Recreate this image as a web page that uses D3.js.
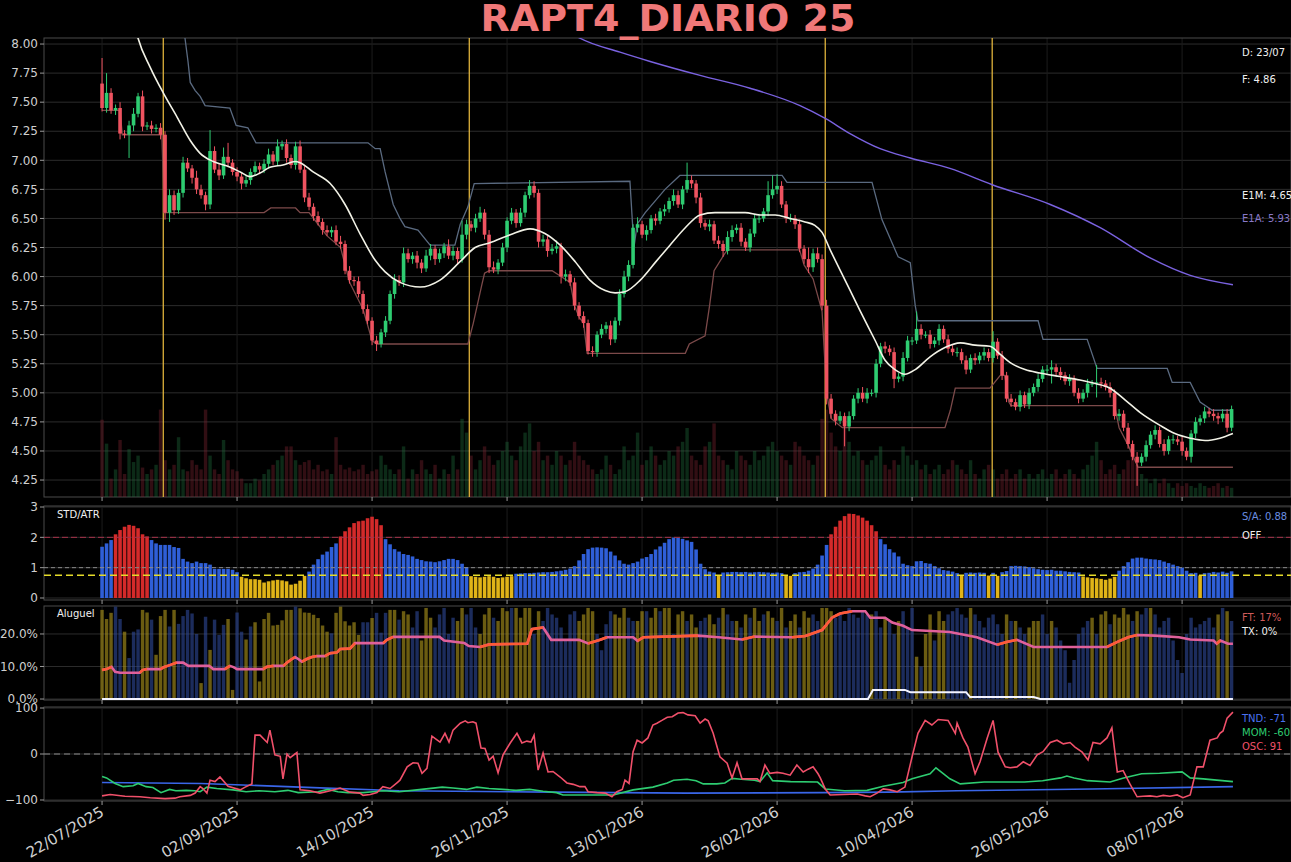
<!DOCTYPE html>
<html>
<head>
<meta charset="utf-8">
<script src="https://cdnjs.cloudflare.com/ajax/libs/d3/7.8.5/d3.min.js"></script>
<style>
  body { margin: 0; background: #000; }
  text { font-family: "DejaVu Sans", sans-serif; }
</style>
</head>
<body>
<svg id="chart"></svg>
<script>
const WIDTH = 1291;
const HEIGHT = 862;

// ---------- data ----------
const title = "RAPT4_DIARIO 25";
const xTickBars = [0, 30, 60, 90, 120, 150, 180, 210, 240];
const xTickLabels = ["22/07/2025", "02/09/2025", "14/10/2025", "26/11/2025", "13/01/2026",
  "26/02/2026", "10/04/2026", "26/05/2026", "08/07/2026"];

const firstOpen = 7.66;
const closes = [
  7.45,7.58,7.43,7.45,7.23,7.22,7.30,7.40,7.55,7.29,
  7.30,7.27,7.28,7.22,6.55,6.70,6.57,6.72,6.98,6.93,
  6.85,6.75,6.70,6.62,7.08,6.92,6.87,7.03,6.98,6.90,
  6.86,6.80,6.83,6.90,6.95,6.92,6.97,7.05,6.99,7.12,
  7.14,7.02,6.96,7.12,6.92,6.68,6.60,6.52,6.47,6.40,
  6.38,6.40,6.30,6.28,6.05,5.97,5.96,5.85,5.72,5.62,
  5.45,5.42,5.52,5.62,5.85,5.97,5.95,6.20,6.15,6.18,
  6.12,6.07,6.18,6.24,6.15,6.20,6.26,6.18,6.22,6.15,
  6.36,6.45,6.42,6.50,6.55,6.36,6.08,6.06,6.12,6.25,
  6.48,6.55,6.46,6.55,6.70,6.78,6.72,6.30,6.32,6.22,
  6.24,6.26,6.00,6.02,5.95,5.75,5.66,5.60,5.36,5.35,
  5.50,5.55,5.58,5.46,5.62,5.85,6.00,6.10,6.42,6.45,
  6.36,6.40,6.50,6.48,6.56,6.58,6.65,6.70,6.62,6.75,
  6.83,6.80,6.68,6.46,6.43,6.45,6.31,6.28,6.22,6.34,
  6.40,6.42,6.30,6.25,6.37,6.50,6.50,6.56,6.70,6.75,
  6.78,6.62,6.50,6.50,6.45,6.24,6.15,6.08,6.20,6.15,
  5.75,4.95,4.82,4.76,4.80,4.71,4.80,4.95,5.00,4.95,
  5.00,5.00,5.25,5.40,5.38,5.35,5.12,5.14,5.30,5.45,
  5.45,5.55,5.50,5.50,5.42,5.45,5.55,5.46,5.38,5.35,
  5.35,5.28,5.20,5.30,5.28,5.32,5.35,5.30,5.44,5.32,
  5.15,4.95,4.92,4.88,4.98,4.90,5.00,5.05,5.12,5.20,
  5.20,5.22,5.18,5.15,5.10,5.12,5.00,4.95,5.00,5.08,
  5.08,5.09,5.08,5.05,5.00,4.80,4.82,4.70,4.56,4.45,
  4.40,4.45,4.55,4.64,4.68,4.56,4.50,4.60,4.60,4.58,
  4.50,4.45,4.65,4.75,4.78,4.84,4.82,4.80,4.78,4.82,
  4.70,4.86
];
// wick lengths above / below the body
const wickUp = [
  0.22,0.17,0.04,0.03,0.05,0.03,0.04,0.05,0.03,0.05,
  0.03,0.04,0.03,0.04,0.03,0.05,0.04,0.03,0.05,0.04,
  0.03,0.06,0.04,0.03,0.18,0.04,0.05,0.08,0.12,0.03,
  0.04,0.03,0.04,0.03,0.04,0.03,0.04,0.05,0.03,0.06,
  0.03,0.04,0.03,0.04,0.05,0.03,0.04,0.03,0.04,0.03,
  0.04,0.03,0.04,0.05,0.03,0.04,0.03,0.04,0.03,0.04,
  0.03,0.04,0.03,0.04,0.03,0.05,0.04,0.05,0.04,0.03,
  0.04,0.03,0.05,0.04,0.03,0.04,0.03,0.06,0.04,0.03,
  0.12,0.04,0.03,0.04,0.05,0.03,0.04,0.05,0.03,0.04,
  0.03,0.04,0.03,0.04,0.03,0.05,0.04,0.03,0.04,0.03,
  0.04,0.05,0.03,0.04,0.03,0.04,0.03,0.04,0.03,0.04,
  0.03,0.04,0.03,0.04,0.03,0.04,0.05,0.04,0.03,0.06,
  0.03,0.04,0.03,0.04,0.03,0.04,0.03,0.05,0.04,0.03,
  0.15,0.04,0.03,0.04,0.03,0.04,0.03,0.04,0.03,0.05,
  0.04,0.03,0.04,0.03,0.04,0.03,0.04,0.03,0.12,0.12,
  0.10,0.04,0.03,0.04,0.03,0.04,0.03,0.10,0.04,0.05,
  0.04,0.05,0.04,0.03,0.04,0.03,0.04,0.03,0.04,0.05,
  0.04,0.03,0.04,0.03,0.04,0.03,0.04,0.03,0.05,0.04,
  0.03,0.15,0.04,0.03,0.04,0.03,0.04,0.03,0.04,0.03,
  0.04,0.03,0.04,0.03,0.04,0.03,0.04,0.03,0.09,0.03,
  0.04,0.03,0.04,0.03,0.04,0.03,0.04,0.03,0.04,0.03,
  0.04,0.06,0.03,0.04,0.03,0.04,0.03,0.04,0.03,0.04,
  0.03,0.15,0.04,0.03,0.04,0.03,0.04,0.03,0.04,0.03,
  0.04,0.03,0.04,0.03,0.04,0.03,0.04,0.03,0.04,0.03,
  0.04,0.03,0.03,0.04,0.03,0.04,0.03,0.04,0.03,0.04,
  0.04,0.03
];
const wickDn = [
  0.03,0.04,0.03,0.04,0.05,0.03,0.20,0.05,0.03,0.04,
  0.03,0.04,0.03,0.04,0.06,0.08,0.04,0.03,0.04,0.03,
  0.05,0.04,0.03,0.05,0.04,0.03,0.04,0.03,0.04,0.03,
  0.04,0.05,0.03,0.04,0.03,0.04,0.03,0.04,0.03,0.04,
  0.03,0.04,0.03,0.04,0.03,0.04,0.03,0.04,0.03,0.04,
  0.03,0.04,0.03,0.04,0.03,0.03,0.04,0.03,0.04,0.03,
  0.04,0.06,0.03,0.04,0.03,0.04,0.03,0.04,0.03,0.04,
  0.05,0.04,0.03,0.04,0.05,0.03,0.04,0.03,0.04,0.05,
  0.03,0.04,0.03,0.04,0.03,0.04,0.05,0.03,0.04,0.03,
  0.04,0.03,0.04,0.03,0.04,0.03,0.04,0.05,0.04,0.05,
  0.03,0.04,0.06,0.04,0.03,0.04,0.03,0.04,0.03,0.04,
  0.04,0.03,0.04,0.05,0.03,0.04,0.03,0.04,0.03,0.04,
  0.03,0.05,0.03,0.04,0.03,0.04,0.03,0.04,0.03,0.04,
  0.03,0.04,0.05,0.04,0.03,0.04,0.03,0.04,0.05,0.03,
  0.04,0.03,0.04,0.03,0.04,0.03,0.04,0.03,0.04,0.03,
  0.04,0.03,0.04,0.03,0.04,0.03,0.04,0.05,0.04,0.03,
  0.04,0.05,0.04,0.04,0.03,0.17,0.04,0.03,0.04,0.03,
  0.04,0.03,0.04,0.03,0.04,0.03,0.08,0.03,0.04,0.03,
  0.04,0.03,0.04,0.03,0.04,0.03,0.04,0.03,0.04,0.03,
  0.04,0.03,0.04,0.03,0.04,0.03,0.04,0.03,0.04,0.03,
  0.04,0.03,0.04,0.03,0.04,0.03,0.04,0.03,0.04,0.03,
  0.04,0.12,0.03,0.04,0.03,0.04,0.03,0.04,0.03,0.04,
  0.03,0.12,0.04,0.03,0.04,0.03,0.04,0.03,0.04,0.03,
  0.20,0.03,0.04,0.03,0.04,0.03,0.04,0.03,0.04,0.03,
  0.04,0.03,0.05,0.04,0.03,0.04,0.03,0.04,0.05,0.03,
  0.04,0.03
];
const volumes = [
  84,58,20,30,62,25,52,38,45,32, 25,30,35,95,40,30,35,65,30,28,
  40,35,30,95,45,30,25,62,40,30, 28,20,15,15,20,18,25,30,35,40,
  45,55,55,40,35,38,40,30,35,28, 30,25,65,35,30,32,28,30,35,25,
  28,30,45,35,30,25,30,55,20,30, 25,40,30,25,35,20,30,25,45,30,
  85,70,45,30,40,55,45,35,40,50, 60,45,40,55,70,80,50,60,40,45,
  35,50,45,35,40,60,45,40,35,30, 25,30,45,35,25,30,55,40,45,70,
  35,40,55,45,35,40,50,45,55,60, 75,45,40,35,55,60,80,45,40,35,
  30,50,45,40,35,50,40,45,55,60, 50,45,40,35,60,55,45,40,35,45,
  85,95,70,55,50,75,60,45,50,40, 35,40,45,55,35,30,40,35,55,45,
  35,40,30,35,25,30,35,25,30,40, 35,30,25,40,25,20,30,35,30,20,
  25,30,20,25,30,20,25,20,25,30, 20,25,30,20,25,30,25,20,30,35,
  45,60,40,25,30,35,25,30,40,45, 35,25,20,15,20,15,20,15,10,15,
  12,15,12,10,15,12,10,12,15,10, 12,10
];

// moving averages and channel, as [bar, value] vertices
const e1m = [[6.2,8.35],[8,8.05],[10.7,7.8],[13.6,7.58],[16.7,7.37],[19.6,7.17],[21.8,7.06],
  [24.7,6.99],[27.8,6.95],[30.7,6.9],[32.9,6.86],[35.1,6.89],[37.3,6.94],[40.2,6.96],[42.9,6.99],
  [44,6.98],[46.9,6.9],[50.7,6.8],[54,6.62],[57.3,6.37],[60.7,6.14],[62.9,6.04],[66.2,5.95],
  [70.7,5.91],[75.1,5.97],[79.6,6.13],[82.9,6.25],[86.2,6.29],[90.7,6.36],[95.1,6.41],[98.4,6.37],
  [101.8,6.27],[105.1,6.13],[108.4,5.97],[111.8,5.88],[114,5.86],[116.2,5.87],[119.6,5.97],
  [122.9,6.12],[126.2,6.27],[129.6,6.42],[132.9,6.53],[136.2,6.55],[139.6,6.55],[142.9,6.55],
  [146.2,6.53],[149.6,6.53],[152.9,6.5],[156.2,6.47],[158.4,6.44],[160,6.38],[161.8,6.23],
  [165.1,5.97],[168.4,5.71],[171.8,5.45],[174,5.28],[176.2,5.2],[178.4,5.16],[180.7,5.2],
  [184,5.31],[187.3,5.39],[190.7,5.43],[194,5.41],[197.3,5.4],[199.6,5.33],[201.8,5.26],
  [205.1,5.2],[208.4,5.17],[212.9,5.14],[217.3,5.11],[220.7,5.08],[224,5.04],[227.3,4.94],
  [230.7,4.83],[235.1,4.72],[238.4,4.65],[241.8,4.61],[245.1,4.59],[248.4,4.61],[251.3,4.65]];
const e1a = [[104,8.1],[106.2,8.05],[115.1,7.93],[121.8,7.85],[132.9,7.73],[144,7.62],
  [155.1,7.47],[160.7,7.36],[166.2,7.23],[172.9,7.1],[179.6,7.02],[188.4,6.93],[197.8,6.79],
  [210.7,6.62],[221.8,6.42],[232.9,6.16],[241.8,6.01],[251.3,5.93]];
const chanHigh = [[18.2,8.12],[19.1,7.85],[19.6,7.67],[20.7,7.6],[21.8,7.55],[22.9,7.47],
  [28.4,7.45],[29.8,7.3],[32.4,7.28],[34.2,7.15],[59.1,7.15],[60.7,7.1],[61.8,7.1],[62.9,6.9],
  [64.7,6.62],[66.2,6.5],[67.3,6.43],[70.2,6.4],[72.9,6.27],[78.4,6.27],[79.6,6.45],[81.3,6.6],
  [82.7,6.8],[117.3,6.82],[118.2,6.25],[118.9,6.45],[120.7,6.55],[125.1,6.75],[128.4,6.87],
  [151.1,6.87],[152.2,6.81],[171.1,6.81],[173.3,6.49],[176.9,6.17],[179.6,6.12],[180.7,5.75],
  [181.3,5.62],[208,5.62],[209.1,5.46],[218.9,5.46],[221.1,5.21],[236.7,5.21],[237.8,5.09],
  [241.8,5.09],[244,4.92],[246.7,4.85],[251.3,4.85]];
const chanLow = [[0,7.43],[4,7.43],[4.5,7.22],[13.3,7.22],[13.8,6.55],[36,6.55],[37.5,6.59],
  [43,6.59],[44,6.55],[46,6.55],[48,6.45],[50,6.35],[53,6.25],[55,5.95],[58,5.72],[60,5.45],
  [61,5.42],[81.3,5.42],[82.5,5.6],[84.4,5.93],[85,6.03],[86,6.05],[100,6.05],[102,6.0],
  [104,5.95],[105,5.75],[106,5.65],[107,5.6],[107.8,5.34],[129.6,5.34],[130.5,5.42],[134,5.49],
  [135,5.75],[136,6.05],[138.4,6.2],[139,6.23],[155,6.23],[156,6.1],[158,5.98],[160,5.7],
  [161,5.0],[162,4.78],[164.5,4.7],[187.3,4.7],[188.5,4.85],[189.6,5.04],[197.3,5.04],
  [199.6,5.15],[200.6,5.15],[201.5,4.92],[202,4.89],[225,4.89],[226,4.7],[228,4.55],
  [230.2,4.36],[251.3,4.36]];
const eventBars = [13.6, 81.6, 160.7, 197.8];

// STD/ATR histogram
const stdAtr = [
  1.69,1.80,1.91,2.10,2.24,2.35,2.41,2.38,2.30,2.10,
  2.03,1.91,1.80,1.75,1.75,1.75,1.68,1.65,1.29,1.20,
  1.15,1.20,1.15,1.15,1.10,0.96,0.96,0.96,0.96,0.93,
  0.85,0.70,0.65,0.62,0.62,0.60,0.51,0.55,0.58,0.60,
  0.58,0.55,0.44,0.47,0.57,0.73,0.87,1.10,1.28,1.43,
  1.53,1.68,1.80,2.03,2.20,2.33,2.47,2.53,2.55,2.63,
  2.68,2.60,2.40,1.94,1.77,1.61,1.53,1.45,1.42,1.37,
  1.29,1.25,1.21,1.20,1.18,1.21,1.25,1.29,1.29,1.25,
  1.13,1.02,0.72,0.70,0.68,0.70,0.72,0.70,0.66,0.68,
  0.70,0.72,0.80,0.81,0.82,0.82,0.83,0.84,0.85,0.85,
  0.86,0.88,0.90,0.93,0.97,1.05,1.24,1.45,1.61,1.66,
  1.67,1.66,1.64,1.53,1.40,1.24,1.13,1.10,1.15,1.20,
  1.30,1.35,1.45,1.60,1.70,1.82,1.94,1.99,1.98,1.95,
  1.90,1.85,1.60,1.13,0.95,0.87,0.84,0.74,0.84,0.85,
  0.86,0.86,0.85,0.86,0.84,0.85,0.86,0.85,0.84,0.83,
  0.84,0.82,0.74,0.73,0.82,0.85,0.86,0.90,0.97,1.10,
  1.40,1.75,2.10,2.35,2.55,2.70,2.78,2.77,2.72,2.65,
  2.55,2.40,2.20,1.94,1.77,1.61,1.50,1.37,1.13,1.08,
  1.05,1.21,1.22,1.15,1.13,1.05,0.98,0.92,0.90,0.87,
  0.82,0.73,0.83,0.84,0.83,0.84,0.83,0.74,0.83,0.73,
  0.85,0.89,1.05,1.06,1.05,1.04,1.02,0.98,0.95,0.93,
  0.92,0.93,0.90,0.90,0.88,0.86,0.85,0.84,0.71,0.68,
  0.66,0.65,0.63,0.60,0.64,0.70,0.90,1.05,1.18,1.30,
  1.33,1.33,1.30,1.28,1.27,1.25,1.20,1.15,1.10,1.05,
  1.00,0.90,0.82,0.83,0.74,0.82,0.83,0.86,0.84,0.87,
  0.83,0.88
];
const stdHigh = 2.0, stdMid = 1.0, stdLow = 0.75;

// Aluguel panel
const aluBars = [
  27.4,24.6,26.5,28.4,24.6,20.7,12.6,20.7,21.4,27.4,
  26.6,24.4,13.6,25.5,27.4,22.3,27.4,23.1,25.5,27.4,
  26.3,20.0,4.9,25.3,15.1,24.4,19.7,22.8,24.6,2.8,
  26.6,20.7,18.3,22.3,23.6,5.4,24.6,26.5,22.6,22.8,
  24.2,27.4,27.4,28.4,27.9,26.6,26.5,25.9,24.9,22.6,
  20.7,20.2,26.5,28.4,23.9,22.6,23.6,19.7,23.6,23.6,
  24.9,26.5,20.4,26.5,27.4,27.4,24.4,27,26,22,
  27,18,28,25,22,26,28,20,25,24,
  28,26,28,22,20,26,28,25,24,28,
  27,28,28,25,28,28,20,27,24,28,
  26,25,22,18,26,27,24,26,28,27,
  20,15,23,27,26,25,28,25,24,24,
  27,27,25,28,27,28,28,20,26,27,
  24,26,22,24,25,26,23,25,28,26,
  24,24,22,26,25,28,24,26,27,25,
  24,28,22,24,26,22,27,25,26,24,
  28,28,27,25,26,24,28,26,25,27,
  26,26,27,22,25,24,20,24,27,22,
  28,13,10,20,26,18,27,24,26,27,
  28,26,25,28,26,24,22,25,26,23,
  20,26,24,24,22,20,22,24,24,26,
  20,24,22,18,15,5,12,20,22,24,
  25,20,26,27,23,26,25,28,26,24,
  27,26,28,28,26,22,24,25,18,12,
  8,20,25,22,23,24,25,22,26,28,
  27,24
];
const aluKind = "YYYBBYBBBY" + "YBYYYBYBBB" + "BBYBYBBBYY" + "BBYBYYYYYY" + "YYYBYYYYYY" +
  "YBYYYYYYBB" + "YBBBYYBYYB" + "BYYYBBBBBY" + "YBBBYYYBYY" + "YBYYYYBYBB" +
  "BBBBBBYYYY" + "BBBBYYYBBY" + "YBYYBYYBYY" + "BYYBBYYBYB" + "BYBYBYYBYY" +
  "BYBYYBYYBB" + "YYYBBBBBBB" + "BYBBYBBYBB" + "BYBYYBYYBB" + "BBBYBBBBBB" +
  "BYBYBBYYYB" + "BYBBBBBBBB" + "YBYYBYYYYB" + "YBBYBBBBBB" + "BBBBBBBBYB" + "YB";
const ftLine = [[0,8.9],[1,9.2],[2.1,9.9],[2.9,8.4],[4,8.1],[8.4,8.1],[9,8.9],[10,9.2],[13,9.2],
  [13.7,9.8],[15.2,10.5],[16.6,11.2],[18,11.2],[19.2,10.2],[23.8,10.2],[24.7,9.2],[27.3,9.2],
  [28.4,10.2],[29.2,9.8],[30,9.2],[35.8,9.2],[36.6,9.9],[38.1,10.2],[40.3,10.2],[41,11.1],
  [42.2,12.3],[42.9,12.9],[43.6,12.3],[44.4,11.5],[45.5,12.3],[46.6,12.9],[47.7,13.2],[49.5,13.2],
  [50.7,14.1],[52.2,14.3],[52.9,15.4],[55.1,15.5],[56.2,17.2],[62.5,17.2],[63.3,18.2],[64.7,19.1],
  [75,19.1],[76,18.0],[80.5,17.2],[81.5,16.3],[84,16.0],[86,16.8],[94.5,17.0],[95.5,21.5],
  [98,22.0],[99.8,18.2],[106,18.2],[108,17.1],[110.7,18.2],[112.2,19.0],[118,19.0],[119,17.9],
  [120.3,19.0],[132.4,19.5],[137,19.0],[142.2,18.3],[145,19.2],[153.3,19.0],[156.3,19.4],
  [160,21.2],[162.2,25],[164,26.3],[166.7,27],[169.6,27],[170.7,25],[174,25],[175.6,23.5],
  [178,22.5],[180,21.2],[188.4,20.6],[194.4,19.0],[198.9,16.7],[201,17.5],[203.3,18.2],
  [207,16.0],[223.3,16.0],[225.5,17.5],[228,19.0],[230,19.7],[234,19.5],[239.3,19.0],
  [241.8,18.3],[247,18.0],[247.7,17.0],[248.5,18.0],[250.2,17.0],[251.3,17.0]];
const txLine = [[0,0],[170.2,0],[171.3,2.8],[178.4,2.8],[179.6,2.1],[192,2.1],[192.9,0.6],
  [207,0.6],[208.5,0],[251.3,0]];

// oscillator panel
const tnd = [[0,-62],[22,-64],[44,-72],[66,-80],[100,-83],[130,-85],[160,-84],[175,-83],
  [190,-80],[220,-76],[251.3,-71]];
const mom = [[0,-49],[1,-52],[2.9,-64],[4.7,-71],[6.9,-69],[8,-64],[9.8,-71],[11.3,-73],
  [13.1,-84],[15,-77],[16.4,-80],[18.7,-79],[20.6,-80],[21.8,-82],[23.3,-72],[25.5,-75],
  [29.1,-78],[32,-82],[34.9,-80],[38.4,-82],[41.3,-79],[43.6,-84],[48,-82],[50.2,-77],
  [52.4,-82],[54.6,-84],[58,-84],[60.2,-82],[62.4,-80],[66,-82],[70,-78],[75.6,-72],
  [78,-74],[81,-77],[83.3,-72],[86,-75],[89,-77],[92,-79],[95,-77],[98,-81],[101,-84],
  [102.4,-89],[108,-89],[113.6,-89],[118,-78],[122.4,-72],[125.6,-63],[127,-57],[130,-55],
  [132,-58],[133.6,-65],[136.6,-65],[138.4,-63],[140,-53],[142,-55],[145,-57],[146.2,-60],
  [147.8,-41],[149,-58],[153,-60],[159,-61],[160.7,-76],[165,-80],[170,-79],[173.6,-70],
  [178,-62],[180,-54],[184,-43],[185.3,-30],[187,-43],[188.4,-54],[190.7,-65],[196,-61],
  [205,-61],[209,-58],[213,-52],[214.4,-48],[216,-52],[219,-58],[224,-61],[227,-52],
  [231,-43],[235,-42],[240,-39],[241.8,-52],[244.7,-54],[251.3,-60]];
const osc = [[0,-91],[1.8,-88],[5.1,-92],[8.4,-93],[10.7,-95],[14,-97],[16.2,-96],[17.3,-93],
  [19.6,-90],[20.7,-85],[21.8,-71],[22.4,-75],[23.3,-85],[24,-57],[25.1,-60],[26.2,-50],
  [28,-70],[30.7,-78],[31.8,-72],[33.3,-65],[34,41],[35.1,41],[36.7,25],[37.3,52],[38.4,-2],
  [39.6,-5],[40.2,-54],[41.1,0],[41.8,-8],[43.3,3],[44,-78],[46.2,-80],[48.4,-85],[50.7,-80],
  [52.9,-74],[55.1,-83],[57.3,-85],[58,-90],[59.6,-88],[61.1,-84],[62.4,-71],[64,-75],
  [65.6,-62],[66.2,-57],[67.8,-28],[69.1,-19],[70.2,-20],[71.1,-42],[72.2,-31],[73.3,39],
  [75.1,26],[76.2,45],[77.1,26],[78,52],[79.6,67],[80.7,72],[81.3,68],[82.4,70],[83.1,67],
  [84.2,13],[85.1,12],[86,-13],[86.9,-5],[88,-41],[89.1,-2],[90.7,24],[92.2,45],[93.3,24],
  [94.4,28],[95.3,26],[96,41],[96.9,-35],[98,2],[99.1,-39],[100.2,-38],[101.8,-50],
  [103.3,-63],[104.7,-66],[106.2,-71],[107.3,-71],[108,-82],[110,-84],[111.8,-85],[113.3,-93],
  [114.4,-82],[115.6,-77],[116.2,-57],[117.1,-64],[118,5],[118.9,30],[120,24],[121.3,35],
  [122.4,63],[123.3,67],[124.4,73],[125.6,80],[126.7,81],[128,89],[129.1,90],[130.2,85],
  [131.8,83],[132.9,67],[134,76],[134.7,72],[135.8,45],[137.3,-6],[138.9,-20],[140,-52],
  [141.1,-19],[142.2,-54],[144,-54],[145.6,-54],[146.2,-60],[147.3,-24],[148.4,-42],[150,-40],
  [151.3,-42],[152.9,-46],[154.4,-24],[155.8,-39],[156.9,-33],[158,-28],[159.1,-43],[159.6,-52],
  [160.7,-76],[161.8,-89],[164.7,-88],[167.8,-87],[169.6,-91],[170.7,-93],[172.2,-85],
  [173.6,-76],[175.1,-78],[176.7,-82],[178.4,-72],[180,-6],[181.3,45],[182.9,73],[184.4,63],
  [185.8,75],[188,73],[189.6,45],[190,67],[191.3,35],[192.4,15],[194,-43],[195.1,-17],
  [196.7,35],[198,73],[199.1,4],[200.7,-28],[201.8,-30],[203.3,-28],[204.7,-17],[206.2,-25],
  [207.8,-2],[209.1,5],[210.7,25],[212.2,30],[213.6,22],[215.1,25],[216.2,15],[217.8,4],
  [219.1,-13],[220.2,25],[221.8,22],[223.3,35],[224.4,57],[225.6,-39],[226.9,-36],[228.4,-65],
  [230,-93],[231.3,-92],[232.9,-91],[234.4,-93],[235.8,-90],[237.3,-92],[238.9,-89],[240.2,-95],
  [241.8,-89],[243.3,-28],[244.7,-28],[246.2,30],[247.8,35],[248.4,45],[249.1,50],[250,78],
  [251.3,91]];

// ---------- layout ----------
const colors = { up: "#2ecc71", down: "#ef5360", frame: "#4a4a4a", grid: "#2c2c2c", tick: "#cfcfcf" };
const svg = d3.select("#chart").attr("width", WIDTH).attr("height", HEIGHT);
svg.append("rect").attr("width", WIDTH).attr("height", HEIGHT).attr("fill", "#000");

const x = d3.scaleLinear().domain([-12.9, 264.2]).range([44, 1291]);
const step = x(1) - x(0);

const panels = {
  main: { top: 38, bottom: 497, y: d3.scaleLinear().domain([4.104, 8.052]).range([497, 38]),
    ticks: d3.range(4.25, 8.01, 0.25), fmt: d3.format(".2f") },
  std: { top: 506, bottom: 600, y: d3.scaleLinear().domain([-0.066, 3.033]).range([600, 506]),
    ticks: [0, 1, 2, 3], fmt: d3.format("d") },
  alu: { top: 606, bottom: 700, y: d3.scaleLinear().domain([-0.3, 28.6]).range([700, 606]),
    ticks: [0, 10, 20], fmt: v => d3.format(".1%")(v / 100) },
  osc: { top: 707, bottom: 801, y: d3.scaleLinear().domain([-102.2, 102.2]).range([801, 707]),
    ticks: [-100, 0, 100], fmt: d3.format("d") }
};

const defs = svg.append("defs");
Object.entries(panels).forEach(([name, p]) => {
  defs.append("clipPath").attr("id", "clip-" + name)
    .append("rect").attr("x", 44).attr("y", p.top).attr("width", 1291 - 44).attr("height", p.bottom - p.top);

  const g = svg.append("g");
  // horizontal grid
  g.selectAll(".hg").data(p.ticks).join("line")
    .attr("x1", 44).attr("x2", 1291)
    .attr("y1", d => p.y(d)).attr("y2", d => p.y(d))
    .attr("stroke", colors.grid).attr("stroke-width", 1);
  // vertical grid
  g.selectAll(".vg").data(xTickBars).join("line")
    .attr("x1", d => x(d)).attr("x2", d => x(d))
    .attr("y1", p.top).attr("y2", p.bottom)
    .attr("stroke", "#1c1c1c").attr("stroke-width", 1);
  // frame
  g.append("rect").attr("x", 44).attr("y", p.top).attr("width", 1291 - 44).attr("height", p.bottom - p.top)
    .attr("fill", "none").attr("stroke", colors.frame).attr("stroke-width", 1);
  // y ticks
  g.selectAll(".yt").data(p.ticks).join("line")
    .attr("x1", 40).attr("x2", 44)
    .attr("y1", d => p.y(d)).attr("y2", d => p.y(d))
    .attr("stroke", "#999");
  g.selectAll(".yl").data(p.ticks).join("text")
    .attr("x", 38).attr("y", d => p.y(d)).attr("dy", "0.35em")
    .attr("text-anchor", "end").attr("font-size", 12).attr("fill", colors.tick)
    .text(p.fmt);
  // x tick marks
  g.selectAll(".xt").data(xTickBars).join("line")
    .attr("x1", d => x(d)).attr("x2", d => x(d))
    .attr("y1", p.bottom).attr("y2", p.bottom + 4)
    .attr("stroke", "#999");
  p.g = svg.append("g").attr("clip-path", "url(#clip-" + name + ")");
});

// ---------- main panel ----------
const yP = panels.main.y;
const opens = closes.map((c, i) => i === 0 ? firstOpen : closes[i - 1]);
const candles = closes.map((c, i) => {
  const o = opens[i];
  return { i, o, c, h: Math.max(o, c) + wickUp[i], l: Math.min(o, c) - wickDn[i], v: volumes[i] };
});

const volY = d3.scaleLinear().domain([0, 100]).range([497, 405]);
const mg = panels.main.g;
mg.selectAll(".vol").data(candles).join("rect")
  .attr("x", d => x(d.i) - step * 0.38).attr("width", step * 0.76)
  .attr("y", d => volY(d.v)).attr("height", d => 497 - volY(d.v))
  .attr("fill", d => d.c >= d.o ? "#1d6a3a" : "#7a2430").attr("opacity", 0.4);

mg.selectAll(".ev").data(eventBars).join("line")
  .attr("x1", d => x(d)).attr("x2", d => x(d)).attr("y1", 38).attr("y2", 497)
  .attr("stroke", "#f0c040").attr("stroke-width", 1.2);

const line = (ys) => d3.line().x(d => x(d[0])).y(d => ys(d[1]));
mg.append("path").datum(chanHigh).attr("d", line(yP)).attr("fill", "none")
  .attr("stroke", "#5a6a80").attr("stroke-width", 1.3);
mg.append("path").datum(chanLow).attr("d", line(yP)).attr("fill", "none")
  .attr("stroke", "#7c4a4a").attr("stroke-width", 1.3);

mg.selectAll(".wick").data(candles).join("line")
  .attr("x1", d => x(d.i)).attr("x2", d => x(d.i))
  .attr("y1", d => yP(d.h)).attr("y2", d => yP(d.l))
  .attr("stroke", d => d.c >= d.o ? colors.up : colors.down).attr("stroke-width", 1);
mg.selectAll(".body").data(candles).join("rect")
  .attr("x", d => x(d.i) - step * 0.4).attr("width", step * 0.8)
  .attr("y", d => yP(Math.max(d.o, d.c)))
  .attr("height", d => Math.max(1, Math.abs(yP(d.o) - yP(d.c))))
  .attr("fill", d => d.c >= d.o ? colors.up : colors.down);

mg.append("path").datum(e1m).attr("d", line(yP).curve(d3.curveMonotoneX)).attr("fill", "none")
  .attr("stroke", "#f2f2e6").attr("stroke-width", 1.6);
mg.append("path").datum(e1a).attr("d", line(yP).curve(d3.curveMonotoneX)).attr("fill", "none")
  .attr("stroke", "#7a62e0").attr("stroke-width", 1.4);

const rightLabel = (yy, txt, fill) => svg.append("text").attr("x", 1242).attr("y", yy)
  .attr("font-size", 10).attr("fill", fill).text(txt);
rightLabel(56, "D: 23/07", "#f0f0f0");
rightLabel(83, "F: " + closes[closes.length - 1].toFixed(2), "#f0f0f0");
rightLabel(199, "E1M: " + e1m[e1m.length - 1][1].toFixed(2), "#f0f0f0");
rightLabel(222, "E1A: " + e1a[e1a.length - 1][1].toFixed(2), "#8878c8");

// ---------- STD/ATR ----------
const ps = panels.std;
ps.g.selectAll(".sb").data(stdAtr).join("rect")
  .attr("x", (d, i) => x(i) - step * 0.4).attr("width", step * 0.8)
  .attr("y", d => ps.y(d)).attr("height", d => ps.y(0) - ps.y(d))
  .attr("fill", d => d > stdHigh ? "#d42a2a" : (d < stdLow ? "#e0b418" : "#2f5fd8"));
[[stdHigh, "#a8324a", "6,3", 1], [stdMid, "#8a8a8a", "4,3", 1], [stdLow, "#e6dc2a", "7,4", 1.5]]
  .forEach(([v, c, dash, w]) => ps.g.append("line")
    .attr("x1", 44).attr("x2", 1291).attr("y1", ps.y(v)).attr("y2", ps.y(v))
    .attr("stroke", c).attr("stroke-dasharray", dash).attr("stroke-width", w));
svg.append("text").attr("x", 57).attr("y", 518).attr("font-size", 10).attr("fill", "#f0f0f0").text("STD/ATR");
rightLabel(520, "S/A: " + stdAtr[stdAtr.length - 1].toFixed(2), "#6a8ee0");
rightLabel(539, "OFF", "#f0f0f0");

// ---------- Aluguel ----------
const pa = panels.alu;
pa.g.selectAll(".ab").data(aluBars).join("rect")
  .attr("x", (d, i) => x(i) - step * 0.38).attr("width", step * 0.76)
  .attr("y", d => pa.y(d)).attr("height", d => pa.y(0) - pa.y(d))
  .attr("fill", (d, i) => aluKind[i] === "Y" ? "#b39a1c" : "#2f4a9a").attr("opacity", 0.6);
pa.g.append("path").datum(ftLine).attr("d", line(pa.y)).attr("fill", "none")
  .attr("stroke", "#e0609a").attr("stroke-width", 2.6);
pa.g.selectAll(".ftup").data(d3.pairs(ftLine).filter(([a, b]) => b[1] > a[1])).join("line")
  .attr("x1", d => x(d[0][0])).attr("y1", d => pa.y(d[0][1]))
  .attr("x2", d => x(d[1][0])).attr("y2", d => pa.y(d[1][1]))
  .attr("stroke", "#ff5a36").attr("stroke-width", 2.6);
pa.g.append("path").datum(txLine).attr("d", line(pa.y)).attr("fill", "none")
  .attr("stroke", "#f4f4ff").attr("stroke-width", 2);
svg.append("text").attr("x", 57).attr("y", 617).attr("font-size", 10).attr("fill", "#f0f0f0").text("Aluguel");
rightLabel(621, "FT: " + Math.round(ftLine[ftLine.length - 1][1]) + "%", "#d05a5a");
rightLabel(635, "TX: " + Math.round(txLine[txLine.length - 1][1]) + "%", "#f0f0f0");

// ---------- oscillator ----------
const po = panels.osc;
po.g.append("line").attr("x1", 44).attr("x2", 1291).attr("y1", po.y(0)).attr("y2", po.y(0))
  .attr("stroke", "#8a8a8a").attr("stroke-dasharray", "6,4");
[[tnd, "#3a66e8"], [mom, "#2ecc71"], [osc, "#f0506a"]].forEach(([pts, c]) =>
  po.g.append("path").datum(pts).attr("d", line(po.y)).attr("fill", "none")
    .attr("stroke", c).attr("stroke-width", 1.6));
rightLabel(722, "TND: " + tnd[tnd.length - 1][1], "#4a72f0");
rightLabel(736, "MOM: " + mom[mom.length - 1][1], "#2ecc71");
rightLabel(750, "OSC: " + osc[osc.length - 1][1], "#f0506a");

// ---------- x labels & title ----------
svg.selectAll(".xl").data(xTickBars).join("text")
  .attr("transform", (d, i) => `translate(${x(d) + 3},${815}) rotate(-30)`)
  .attr("text-anchor", "end").attr("font-size", 15).attr("fill", colors.tick)
  .text((d, i) => xTickLabels[i]);

svg.append("text").attr("x", 668).attr("y", 31).attr("text-anchor", "middle")
  .attr("font-size", 38).attr("font-weight", "bold").attr("fill", "#f07878")
  .text(title);
</script>
</body>
</html>
